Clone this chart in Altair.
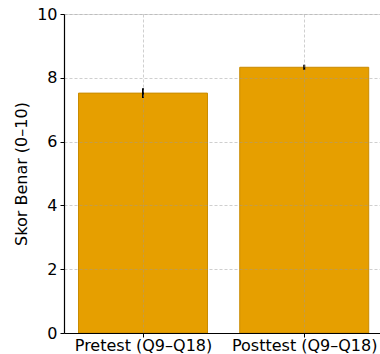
import altair as alt
import pandas as pd

# Mean correct scores (out of 10) with their error half-widths
groups = ["Pretest (Q9–Q18)", "Posttest (Q9–Q18)"]
means = [7.52, 8.33]
errors = [0.15, 0.08]
positions = [0, 1]

df = pd.DataFrame({
    "group": groups,
    "pos": positions,
    "mean": means,
    "lo": [m - e for m, e in zip(means, errors)],
    "hi": [m + e for m, e in zip(means, errors)],
    "left": [p - 0.4 for p in positions],
    "right": [p + 0.4 for p in positions],
})

label_expr = "datum.value == 0 ? '" + groups[0] + "' : datum.value == 1 ? '" + groups[1] + "' : ''"

x_scale = alt.Scale(domain=[-0.49, 1.47], nice=False, zero=False)
y_scale = alt.Scale(domain=[0, 10], nice=False)

x_axis = alt.Axis(
    title=None, values=positions, labelExpr=label_expr,
    grid=True, gridColor="#999999", gridDash=[3, 2], gridOpacity=0.6, gridWidth=0.8,
    domainColor="black", domainWidth=1.2, tickColor="black", tickSize=4,
    labelColor="black", labelFontSize=16, labelFont="DejaVu Sans",
    labelBaseline="alphabetic", labelPadding=13,
    zindex=1,
)
y_axis = alt.Axis(
    title="Skor Benar (0–10)", values=[0, 2, 4, 6, 8, 10],
    grid=True, gridColor="#999999", gridDash=[3, 2], gridOpacity=0.6, gridWidth=0.8,
    domainColor="black", domainWidth=1.2, tickColor="black", tickSize=4,
    labelColor="black", labelFontSize=16, labelFont="DejaVu Sans", labelPadding=3,
    titleColor="black", titleFontSize=16, titleFont="DejaVu Sans", titleFontWeight="normal",
    titlePadding=7, zindex=1,
)

base = alt.Chart(df)

bars = base.mark_rect(color="#E69F00", stroke="#C98B00", strokeWidth=1).encode(
    x=alt.X("left:Q", scale=x_scale, axis=x_axis),
    x2="right:Q",
    y=alt.Y("mean:Q", scale=y_scale, axis=y_axis),
    y2=alt.datum(0),
)

err = base.mark_rule(color="black", strokeWidth=2).encode(
    x=alt.X("pos:Q", scale=x_scale),
    y=alt.Y("lo:Q", scale=y_scale),
    y2="hi:Q",
)

chart = (
    alt.layer(bars, err)
    .properties(
        width=316, height=319,
        autosize=alt.AutoSizeParams(type="none"),
        padding={"left": 64, "top": 14, "right": 0, "bottom": 21},
    )
    .configure_view(stroke=None)
    .configure(background="white")
)

chart.save("out.html", embed_options={"renderer": "svg", "actions": False})
